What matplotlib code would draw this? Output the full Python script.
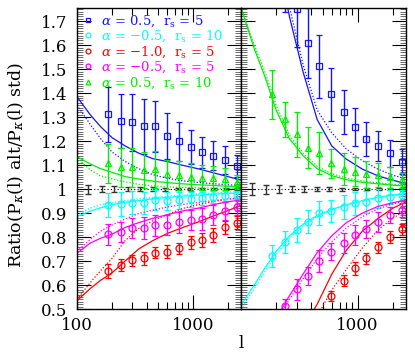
import matplotlib
matplotlib.use("Agg")
import matplotlib.pyplot as plt
from matplotlib.lines import Line2D
from matplotlib.ticker import MultipleLocator, NullFormatter, FormatStrFormatter
import numpy as np

nan = np.nan
plt.rcParams['font.family'] = ['DejaVu Serif']
plt.rcParams['mathtext.fontset'] = 'dejavuserif'

# multipole bins
l_pts = [186, 238, 300, 378, 470, 593, 757, 955, 1190, 1500, 1890, 2400]
l_ref = [125, 163, 210, 273, 349, 449, 574, 738, 942, 1203, 1527, 1914, 2409]
ref_val = [1.0] * 13
ref_err_a = [0.019, 0.014, 0.013, 0.010, 0.008, 0.007, 0.006, 0.005, 0.005, 0.004, 0.004, 0.004, 0.003]
ref_err_b = [0.024, 0.019, 0.016, 0.014, 0.012, 0.009, 0.008, 0.006, 0.005, 0.005, 0.004, 0.004, 0.004]

# left panel measurements
blue_a = [1.312, 1.283, 1.278, 1.261, 1.261, 1.222, 1.199, 1.176, 1.153, 1.139, 1.120, 1.097]
blue_a_err = [0.115, 0.113, 0.118, 0.113, 0.108, 0.096, 0.082, 0.071, 0.064, 0.061, 0.058, 0.046]
cyan_a = [0.933, 0.938, 0.943, 0.943, 0.954, 0.951, 0.954, 0.958, 0.961, 0.965, 0.971, 0.975]
cyan_a_err = [0.049, 0.050, 0.048, 0.045, 0.042, 0.038, 0.035, 0.031, 0.028, 0.025, 0.021, 0.016]
red_a = [0.660, 0.683, 0.704, 0.711, 0.735, 0.739, 0.753, 0.778, 0.788, 0.808, 0.840, 0.860]
red_a_err = [0.029, 0.024, 0.023, 0.028, 0.024, 0.028, 0.024, 0.026, 0.028, 0.028, 0.028, 0.028]
mag_a = [0.812, 0.822, 0.836, 0.836, 0.850, 0.850, 0.861, 0.871, 0.875, 0.892, 0.910, 0.926]
mag_a_err = [0.044, 0.042, 0.042, 0.046, 0.044, 0.042, 0.045, 0.042, 0.045, 0.042, 0.038, 0.035]
green_a = [1.107, 1.090, 1.090, 1.079, 1.082, 1.061, 1.057, 1.051, 1.047, 1.047, 1.043, 1.030]
green_a_err = [0.083, 0.080, 0.081, 0.074, 0.076, 0.062, 0.062, 0.057, 0.052, 0.049, 0.046, 0.030]

# right panel measurements
blue_b = [nan, 1.90, 1.75, 1.611, 1.512, 1.395, 1.320, 1.258, 1.210, 1.179, 1.149, 1.114]
blue_b_err = [nan, 0.160, 0.157, 0.146, 0.132, 0.111, 0.092, 0.078, 0.071, 0.062, 0.057, 0.053]
cyan_b = [0.721, 0.780, 0.829, 0.864, 0.901, 0.910, 0.926, 0.940, 0.947, 0.961, 0.968, 0.975]
cyan_b_err = [0.047, 0.047, 0.050, 0.049, 0.050, 0.046, 0.050, 0.046, 0.045, 0.040, 0.030, 0.020]
red_b = [nan, nan, nan, nan, 0.478, 0.554, 0.618, 0.670, 0.711, 0.757, 0.801, 0.832]
red_b_err = [nan, nan, nan, nan, 0.022, 0.022, 0.022, 0.028, 0.022, 0.024, 0.024, 0.024]
mag_b = [nan, 0.512, 0.582, 0.637, 0.701, 0.739, 0.774, 0.808, 0.833, 0.864, 0.892, 0.912]
mag_b_err = [nan, 0.030, 0.045, 0.038, 0.045, 0.036, 0.042, 0.042, 0.038, 0.042, 0.035, 0.028]
green_b = [1.395, 1.292, 1.229, 1.172, 1.149, 1.107, 1.083, 1.072, 1.061, 1.057, 1.049, 1.037]
green_b_err = [0.102, 0.073, 0.094, 0.085, 0.087, 0.062, 0.066, 0.061, 0.057, 0.050, 0.045, 0.031]

# model curves (solid / dotted), read on a common l grid
l_mod = [100, 130, 160, 200, 260, 340, 450, 600, 800, 1100, 1500, 2000, 2630]
blue_a_sol = [1.385, 1.31, 1.26, 1.215, 1.18, 1.15, 1.127, 1.115, 1.10, 1.085, 1.068, 1.052, 1.037]
blue_a_dot = [1.35, 1.27, 1.21, 1.155, 1.115, 1.085, 1.06, 1.045, 1.035, 1.028, 1.022, 1.018, 1.015]
cyan_a_sol = [0.885, 0.908, 0.922, 0.935, 0.945, 0.952, 0.959, 0.965, 0.97, 0.975, 0.979, 0.982, 0.985]
cyan_a_dot = [0.89, 0.921, 0.935, 0.943, 0.952, 0.959, 0.965, 0.97, 0.975, 0.98, 0.984, 0.987, 0.99]
red_a_sol = [0.535, 0.585, 0.62, 0.65, 0.70, 0.75, 0.785, 0.815, 0.838, 0.862, 0.888, 0.91, 0.933]
red_a_dot = [0.54, 0.61, 0.66, 0.71, 0.785, 0.835, 0.868, 0.893, 0.918, 0.935, 0.948, 0.958, 0.965]
mag_a_sol = [0.732, 0.775, 0.795, 0.812, 0.84, 0.86, 0.878, 0.893, 0.908, 0.92, 0.935, 0.947, 0.955]
mag_a_dot = [0.74, 0.79, 0.825, 0.85, 0.875, 0.898, 0.912, 0.925, 0.935, 0.944, 0.952, 0.958, 0.962]
green_a_sol = [1.135, 1.105, 1.085, 1.07, 1.052, 1.042, 1.033, 1.027, 1.022, 1.018, 1.015, 1.012, 1.01]
green_a_dot = [1.13, 1.08, 1.055, 1.043, 1.03, 1.02, 1.013, 1.009, 1.007, 1.005, 1.004, 1.003, 1.003]

blue_b_sol = [nan, nan, nan, 2.0, 1.72, 1.49, 1.29, 1.18, 1.125, 1.083, 1.055, 1.037, 1.022]
blue_b_dot = [nan, nan, nan, 2.05, 1.76, 1.52, 1.33, 1.235, 1.167, 1.118, 1.083, 1.058, 1.042]
cyan_b_sol = [0.515, 0.60, 0.67, 0.74, 0.805, 0.853, 0.89, 0.915, 0.935, 0.952, 0.966, 0.975, 0.982]
cyan_b_dot = [0.50, 0.585, 0.657, 0.728, 0.795, 0.846, 0.885, 0.912, 0.933, 0.951, 0.965, 0.975, 0.982]
red_b_sol = [nan, nan, nan, nan, nan, 0.42, 0.52, 0.645, 0.745, 0.825, 0.878, 0.92, 0.948]
red_b_dot = [nan, nan, nan, nan, nan, nan, 0.47, 0.579, 0.665, 0.755, 0.83, 0.878, 0.915]
mag_b_sol = [nan, nan, nan, 0.46, 0.555, 0.645, 0.735, 0.805, 0.86, 0.90, 0.928, 0.943, 0.955]
mag_b_dot = [nan, nan, nan, 0.45, 0.54, 0.625, 0.71, 0.78, 0.838, 0.885, 0.918, 0.938, 0.952]
green_b_sol = [1.755, 1.585, 1.47, 1.33, 1.21, 1.14, 1.085, 1.056, 1.039, 1.028, 1.022, 1.016, 1.012]
green_b_dot = [1.76, 1.60, 1.49, 1.35, 1.225, 1.15, 1.095, 1.064, 1.046, 1.034, 1.026, 1.02, 1.016]

labels = [r'$\alpha$ = 0.5,  r$_{\rm s}$ = 5', r'$\alpha$ = $-$0.5,  r$_{\rm s}$ = 10',
          r'$\alpha$ = $-$1.0,  r$_{\rm s}$ = 5', r'$\alpha$ = $-$0.5,  r$_{\rm s}$ = 5',
          r'$\alpha$ = 0.5,  r$_{\rm s}$ = 10']
colors = ['#1414ff', '#00ffff', '#ff0000', '#ff00ff', '#00ee00']
markers = ['s', 'o', 'o', 'o', '^']

panels = [
    dict(pts=[(blue_a, blue_a_err), (cyan_a, cyan_a_err), (red_a, red_a_err), (mag_a, mag_a_err), (green_a, green_a_err)],
         sol=[blue_a_sol, cyan_a_sol, red_a_sol, mag_a_sol, green_a_sol],
         dot=[blue_a_dot, cyan_a_dot, red_a_dot, mag_a_dot, green_a_dot], ref_err=ref_err_a),
    dict(pts=[(blue_b, blue_b_err), (cyan_b, cyan_b_err), (red_b, red_b_err), (mag_b, mag_b_err), (green_b, green_b_err)],
         sol=[blue_b_sol, cyan_b_sol, red_b_sol, mag_b_sol, green_b_sol],
         dot=[blue_b_dot, cyan_b_dot, red_b_dot, mag_b_dot, green_b_dot], ref_err=ref_err_b),
]

fig = plt.figure(figsize=(4.15, 3.53), dpi=100)
ax1 = fig.add_axes([77/415, 44/353, 164/415, 301/353])
ax2 = fig.add_axes([241/415, 44/353, 165/415, 301/353])

for ax, p in zip([ax1, ax2], panels):
    ax.axhline(1.0, color='k', ls=(0, (1, 2)), lw=0.8)
    ax.errorbar(l_ref, ref_val, yerr=p['ref_err'], fmt='none', ecolor='#333333',
                elinewidth=1, capsize=2.5, capthick=1)
    for (v, e), s, d, c, m in zip(p['pts'], p['sol'], p['dot'], colors, markers):
        ax.plot(l_mod, s, color=c, lw=0.9)
        ax.plot(l_mod, d, color=c, lw=0.9, ls=(0, (1, 1.5)))
        ax.errorbar(l_pts, v, yerr=e, fmt=m, mfc='none', mec=c, ms=5, mew=0.9,
                    ecolor=c, elinewidth=1, capsize=2.5, capthick=1)
    ax.set_xscale('log')
    ax.set_xlim(100, 2600)
    ax.set_ylim(0.5, 1.755)
    ax.yaxis.set_major_locator(MultipleLocator(0.1))
    ax.yaxis.set_minor_locator(MultipleLocator(0.01))
    ax.yaxis.set_major_formatter(FormatStrFormatter('%g'))
    ax.xaxis.set_minor_formatter(NullFormatter())
    ax.tick_params(which='both', direction='in', top=True, right=True, width=0.8)
    ax.tick_params(which='major', length=10, labelsize=12)
    ax.tick_params(axis='x', which='major', pad=6)
    ax.tick_params(axis='y', which='major', pad=7)
    ax.tick_params(which='minor', length=5)
    ax.tick_params(axis='y', which='minor', length=4, width=0.6, color='#555555')
    for sp in ax.spines.values():
        sp.set_linewidth(1.0)

ax1.set_xticks([100, 1000])
ax1.set_xticklabels(['100', '1000'])
ax2.set_xticks([100, 1000])
ax2.set_xticklabels(['', '1000'])
ax2.set_yticklabels([])
ax1.set_ylabel(r'Ratio(P$_\kappa$(l) alt/P$_\kappa$(l) std)', fontsize=12.5)
ax1.yaxis.set_label_coords(-0.31, 0.48)
fig.text(241/415, 1/353, 'l', ha='center', va='bottom', fontsize=12)

handles = [Line2D([], [], ls='none', marker=m, mfc='none', mec=c, ms=3.5, mew=0.9)
           for m, c in zip(markers, colors)]
ax1.legend(handles, labels, loc='upper left', frameon=False, labelcolor=colors,
           fontsize=9.5, handlelength=0.8, handletextpad=0.6, labelspacing=0.0,
           borderaxespad=0.1, borderpad=0.3)

fig.savefig('out.png', dpi=100)
